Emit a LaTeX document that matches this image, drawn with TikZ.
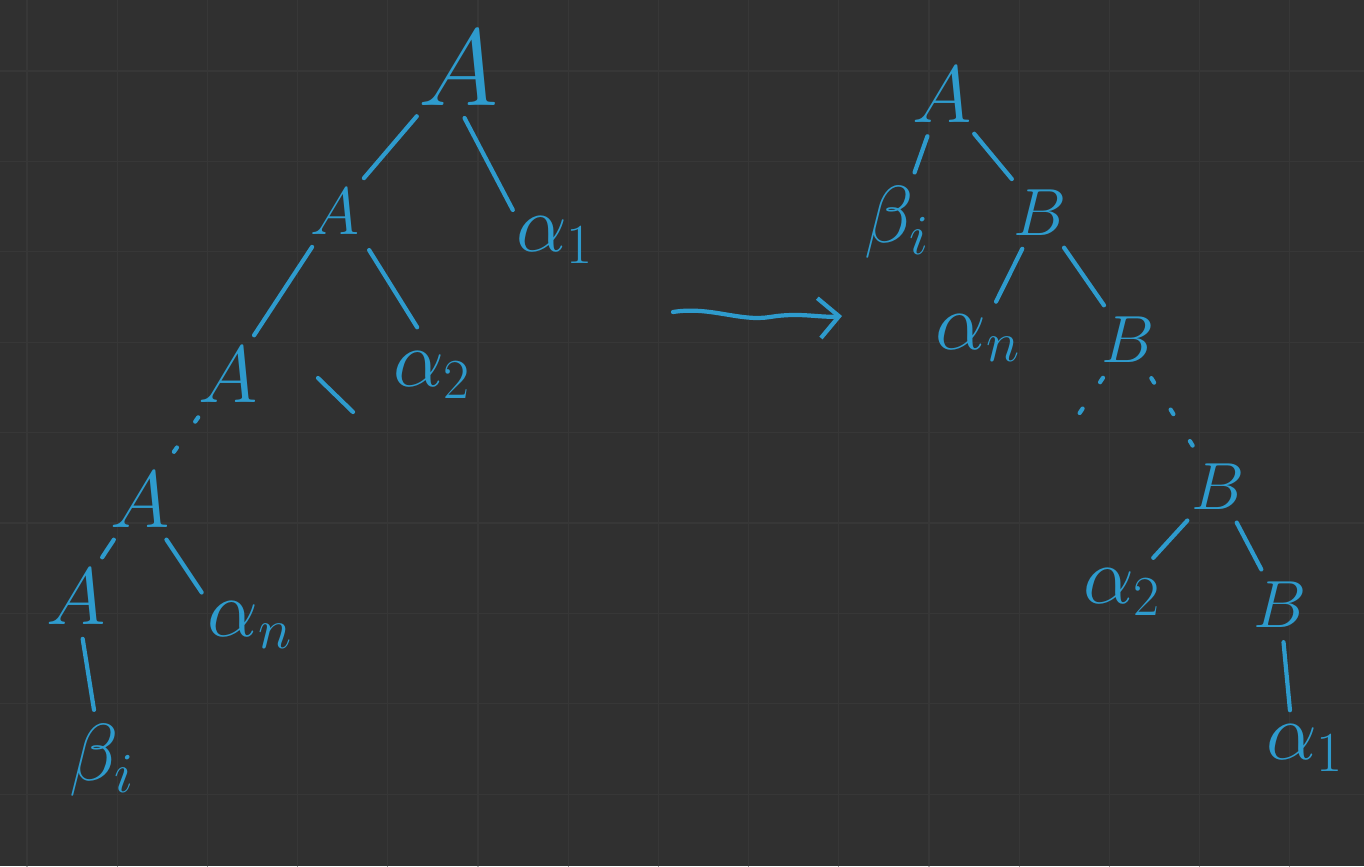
\RequirePackage{fix-cm}
\documentclass[tikz,border=0pt]{standalone}
\usetikzlibrary{arrows.meta,positioning}
\definecolor{board}{HTML}{303030}
\definecolor{gridln}{HTML}{373737}
\definecolor{ink}{HTML}{2E9BCD}
\tikzset{
  every picture/.append style={line cap=round,line join=round},
  tree label/.style={ink,inner sep=0pt,font=\fontsize{46}{50}\selectfont},
  tree big/.style={tree label,font=\fontsize{62}{66}\selectfont},
  tree small/.style={tree label,font=\fontsize{38}{42}\selectfont},
  tree edge/.style={ink,line width=2.4pt,shorten <=8pt,shorten >=8pt},
  tree dots/.style={ink,line width=2.4pt,dash pattern=on 3pt off 18pt,shorten <=10pt,shorten >=10pt},
  tree arrow/.style={ink,line width=2.4pt,-{Straight Barb[length=4mm,width=8mm]}},
  board grid/.style={gridln,line width=0.6pt}
}
\begin{document}
\begin{tikzpicture}[x=0.02cm,y=-0.02cm]
\fill[board] (0,0) rectangle (1364,866);
\useasboundingbox (0,0) rectangle (1364,866);
\foreach \i in {0,...,14} \draw[board grid] (27+90.2*\i,0) -- (27+90.2*\i,866);
\foreach \j in {0,...,8} \draw[board grid] (0,71+90.4*\j) -- (1364,71+90.4*\j);
% left tree
\node[tree big] (la1) at (458,68) {$A$};
\node[tree small] (la2) at (335,212) {$A$};
\node[tree label] (lal1) at (555,240) {$\alpha_1$};
\node[tree label] (la3) at (228,375) {$A$};
\node[tree label] (lal2) at (432,375) {$\alpha_2$};
\node[tree label] (la4) at (140,500) {$A$};
\node[tree label] (lan) at (250,625) {$\alpha_n$};
\node[tree label] (la5) at (76,597) {$A$};
\node[tree label] (lbi) at (102,760) {$\beta_i$};
\coordinate (la3s) at (318,378);
\coordinate (la3t) at (353,412);
\draw[tree edge] (la1) -- (la2);
\draw[tree edge,shorten >=4pt] (la1.south) -- (lal1.north west);
\draw[tree edge] (la2) -- (la3);
\draw[tree edge,shorten <=10pt,shorten >=16pt] (la2.south east) -- (lal2.north);
\draw[tree edge,shorten <=0pt,shorten >=0pt] (la3s) -- (la3t);
\draw[tree dots] (la3) -- (la4);
\draw[tree edge] (la4) -- (la5);
\draw[tree edge,shorten >=6pt] (la4) -- (lan.north west);
\draw[tree edge] (la5) -- (lbi);
% arrow
\coordinate (arrs) at (673,312);
\coordinate (arre) at (842,316);
\draw[tree arrow] (arrs) .. controls (710,306) and (740,322) .. (770,317) .. controls (800,312) and (820,318) .. (arre);
% right tree
\node[tree label] (ra1) at (942,95) {$A$};
\node[tree label] (rbi) at (897,222) {$\beta_i$};
\node[tree small] (rb1) at (1040,213) {$B$};
\node[tree label] (ran) at (978,338) {$\alpha_n$};
\node[tree small] (rb2) at (1128,340) {$B$};
\node[tree small] (rb3) at (1218,487) {$B$};
\node[tree label] (ral2) at (1122,592) {$\alpha_2$};
\node[tree small] (rb4) at (1280,605) {$B$};
\node[tree label] (ral1) at (1305,748) {$\alpha_1$};
\coordinate (rb2l) at (1075,420);
\draw[tree edge] (ra1) -- (rbi);
\draw[tree edge] (ra1) -- (rb1);
\draw[tree edge] (rb1) -- (ran);
\draw[tree edge] (rb1) -- (rb2);
\draw[tree dots,shorten >=0pt] (rb2) -- (rb2l);
\draw[tree dots] (rb2) -- (rb3);
\draw[tree edge] (rb3) -- (ral2);
\draw[tree edge] (rb3) -- (rb4);
\draw[tree edge] (rb4) -- (ral1.120);
\end{tikzpicture}
\end{document}
